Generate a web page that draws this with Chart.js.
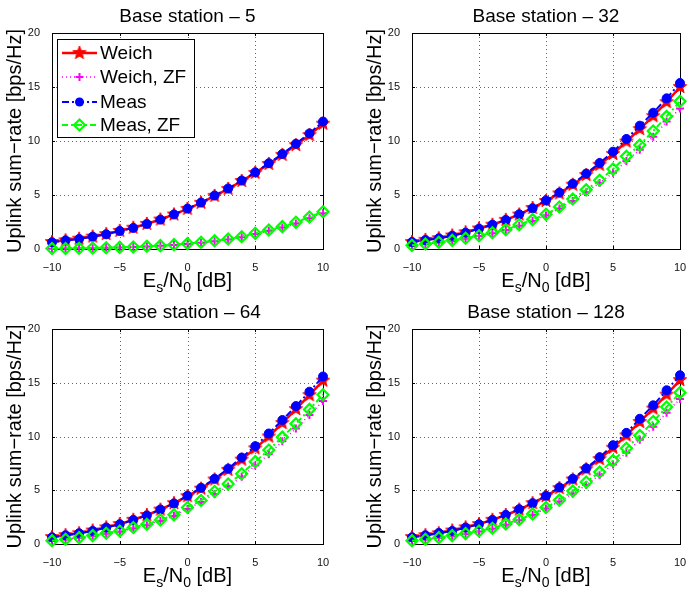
<!DOCTYPE html>
<html>
<head>
<meta charset="utf-8">
<script src="https://cdn.jsdelivr.net/npm/chart.js@4/dist/chart.umd.min.js"></script>
<style>
  body { margin: 0; background: #fff; width: 688px; height: 591px; position: relative; overflow: hidden; }
  canvas { position: absolute; }
</style>
</head>
<body>
<canvas id="c0" width="344" height="296" style="left:0;top:0"></canvas>
<canvas id="c1" width="344" height="296" style="left:344px;top:0"></canvas>
<canvas id="c2" width="344" height="295" style="left:0;top:296px"></canvas>
<canvas id="c3" width="344" height="295" style="left:344px;top:296px"></canvas>
<script>
// x axis: Es/N0 in dB
const snr = [-10, -9, -8, -7, -6, -5, -4, -3, -2, -1, 0, 1, 2, 3, 4, 5, 6, 7, 8, 9, 10];
const xTicks = [-10, -5, 0, 5, 10];
const yTicks = [0, 5, 10, 15, 20];
const seriesNames = ['Weich', 'Weich, ZF', 'Meas', 'Meas, ZF'];
const titles = ['Base station \u2013 5', 'Base station \u2013 32', 'Base station \u2013 64', 'Base station \u2013 128'];

// Base station 5
const weich5   = [0.65, 0.80, 0.95, 1.15, 1.38, 1.68, 1.97, 2.33, 2.73, 3.20, 3.72, 4.28, 4.92, 5.57, 6.30, 7.05, 7.88, 8.72, 9.62, 10.55, 11.60];
const weichZF5 = [0.03, 0.04, 0.06, 0.08, 0.11, 0.14, 0.18, 0.23, 0.29, 0.37, 0.47, 0.58, 0.72, 0.88, 1.08, 1.38, 1.68, 1.98, 2.37, 2.85, 3.32];
const meas5    = [0.62, 0.80, 0.93, 1.14, 1.36, 1.67, 1.95, 2.32, 2.72, 3.20, 3.74, 4.30, 4.95, 5.60, 6.34, 7.10, 7.94, 8.80, 9.74, 10.70, 11.80];
const measZF5  = [0.04, 0.05, 0.07, 0.09, 0.12, 0.15, 0.19, 0.25, 0.31, 0.40, 0.50, 0.62, 0.76, 0.92, 1.14, 1.45, 1.76, 2.07, 2.47, 2.96, 3.45];

// Base station 32
const weich32   = [0.65, 0.85, 1.00, 1.25, 1.55, 1.90, 2.25, 2.70, 3.20, 3.80, 4.45, 5.15, 5.95, 6.85, 7.80, 8.80, 9.95, 11.10, 12.30, 13.60, 15.00];
const weichZF32 = [0.33, 0.45, 0.60, 0.75, 0.95, 1.20, 1.45, 1.75, 2.15, 2.60, 3.10, 3.75, 4.45, 5.25, 6.10, 7.05, 8.15, 9.20, 10.40, 11.80, 13.00];
const meas32    = [0.65, 0.83, 0.99, 1.23, 1.51, 1.88, 2.25, 2.69, 3.21, 3.77, 4.50, 5.22, 6.05, 6.98, 7.96, 9.01, 10.19, 11.42, 12.62, 13.95, 15.37];
const measZF32  = [0.34, 0.46, 0.62, 0.80, 0.99, 1.23, 1.51, 1.79, 2.25, 2.72, 3.21, 3.89, 4.63, 5.49, 6.36, 7.40, 8.58, 9.63, 10.93, 12.28, 13.67];

// Base station 64
const weich64   = [0.65, 0.82, 1.00, 1.25, 1.55, 1.85, 2.25, 2.70, 3.20, 3.80, 4.45, 5.15, 6.00, 6.90, 7.85, 8.90, 10.00, 11.25, 12.55, 13.85, 15.20];
const weichZF64 = [0.30, 0.42, 0.57, 0.75, 0.95, 1.15, 1.45, 1.75, 2.15, 2.60, 3.25, 3.90, 4.65, 5.35, 6.25, 7.30, 8.35, 9.55, 10.75, 12.00, 13.30];
const meas64    = [0.62, 0.81, 1.00, 1.21, 1.53, 1.84, 2.24, 2.65, 3.21, 3.77, 4.49, 5.23, 6.07, 7.01, 8.04, 9.10, 10.28, 11.53, 12.83, 14.17, 15.58];
const measZF64  = [0.31, 0.44, 0.59, 0.78, 1.00, 1.21, 1.53, 1.84, 2.24, 2.71, 3.40, 4.05, 4.89, 5.58, 6.54, 7.66, 8.75, 9.94, 11.18, 12.52, 13.89];

// Base station 128
const weich128   = [0.65, 0.82, 1.00, 1.25, 1.55, 1.85, 2.25, 2.70, 3.20, 3.80, 4.45, 5.20, 6.00, 6.95, 7.90, 8.95, 10.10, 11.35, 12.60, 13.90, 15.25];
const weichZF128 = [0.30, 0.42, 0.57, 0.75, 0.94, 1.17, 1.42, 1.80, 2.20, 2.70, 3.30, 3.95, 4.70, 5.50, 6.40, 7.40, 8.50, 9.70, 10.90, 12.20, 13.50];
const meas128    = [0.62, 0.81, 1.03, 1.21, 1.53, 1.84, 2.24, 2.71, 3.24, 3.80, 4.49, 5.26, 6.07, 7.04, 8.07, 9.19, 10.34, 11.65, 12.90, 14.30, 15.70];
const measZF128  = [0.31, 0.44, 0.59, 0.78, 0.97, 1.21, 1.46, 1.87, 2.27, 2.80, 3.40, 4.08, 4.92, 5.76, 6.70, 7.76, 8.91, 10.09, 11.40, 12.74, 14.08];

const panels = [
  [weich5, weichZF5, meas5, measZF5],
  [weich32, weichZF32, meas32, measZF32],
  [weich64, weichZF64, meas64, measZF64],
  [weich128, weichZF128, meas128, measZF128]
];

// plot area of each panel inside its canvas: left, right, top, bottom
const areas = [
  { l: 52, r: 323, t: 33, b: 249 },
  { l: 68, r: 339, t: 33, b: 249 },
  { l: 52, r: 323, t: 33, b: 248 },
  { l: 68, r: 339, t: 33, b: 248 }
];

const FONT = '"Liberation Sans", Arial, Helvetica, sans-serif';
const RED = '#ff0000', MAGENTA = '#ff00ff', BLUE = '#0000ff', GREEN = '#00ff00';

function makeStar(r, color) {
  const c = document.createElement('canvas');
  const s = Math.ceil(r * 2 + 2);
  c.width = c.height = s;
  const g = c.getContext('2d');
  g.translate(s / 2, s / 2);
  g.beginPath();
  for (let i = 0; i < 10; i++) {
    const rr = i % 2 ? r * 0.42 : r;
    const a = -Math.PI / 2 + i * Math.PI / 5;
    g.lineTo(rr * Math.cos(a), rr * Math.sin(a));
  }
  g.closePath();
  g.fillStyle = color;
  g.fill();
  g.strokeStyle = color;
  g.lineWidth = 1;
  g.stroke();
  return c;
}
const star = makeStar(7, RED);

const styles = [
  { color: RED, width: 2.5, dash: [], point: star, radius: 7, fill: RED, pw: 1, order: 4 },
  { color: MAGENTA, width: 1.5, dash: [1, 3], point: 'cross', radius: 4, fill: MAGENTA, pw: 2, order: 3 },
  { color: BLUE, width: 2, dash: [7, 3, 2, 3], point: 'circle', radius: 4.5, fill: BLUE, pw: 1, order: 2 },
  { color: GREEN, width: 2, dash: [6, 3, 2, 3], point: 'rectRot', radius: 5.5, fill: 'rgba(0,0,0,0)', pw: 2.2, order: 1 }
];

function fmt(v) { return String(v).replace('-', '\u2212'); }

function drawMarker(ctx, st, x, y) {
  ctx.save();
  ctx.setLineDash([]);
  if (st.point === star) {
    ctx.drawImage(star, x - star.width / 2, y - star.height / 2);
  } else if (st.point === 'cross') {
    ctx.strokeStyle = st.color; ctx.lineWidth = st.pw;
    ctx.beginPath();
    ctx.moveTo(x - st.radius, y); ctx.lineTo(x + st.radius, y);
    ctx.moveTo(x, y - st.radius); ctx.lineTo(x, y + st.radius);
    ctx.stroke();
  } else if (st.point === 'circle') {
    ctx.fillStyle = st.color;
    ctx.beginPath(); ctx.arc(x, y, st.radius, 0, Math.PI * 2); ctx.fill();
  } else {
    ctx.strokeStyle = st.color; ctx.lineWidth = st.pw;
    ctx.beginPath();
    ctx.moveTo(x, y - st.radius); ctx.lineTo(x + st.radius, y);
    ctx.lineTo(x, y + st.radius); ctx.lineTo(x - st.radius, y);
    ctx.closePath(); ctx.stroke();
  }
  ctx.restore();
}

function framePlugin(idx) {
  return {
    id: 'frame' + idx,
    beforeDatasetsDraw(chart) {
      const ctx = chart.ctx, a = chart.chartArea;
      const xs = chart.scales.x, ys = chart.scales.y;
      ctx.save();
      // dotted grid
      ctx.strokeStyle = 'rgba(0,0,0,0.6)';
      ctx.lineWidth = 1;
      ctx.setLineDash([1, 3]);
      ctx.beginPath();
      xTicks.slice(1, -1).forEach(v => {
        const px = Math.round(xs.getPixelForValue(v)) + 0.5;
        ctx.moveTo(px, a.top); ctx.lineTo(px, a.bottom);
      });
      yTicks.slice(1, -1).forEach(v => {
        const py = Math.round(ys.getPixelForValue(v)) + 0.5;
        ctx.moveTo(a.left, py); ctx.lineTo(a.right, py);
      });
      ctx.stroke();
      // box and inward ticks
      ctx.setLineDash([]);
      ctx.strokeStyle = '#000';
      ctx.strokeRect(a.left + 0.5, a.top + 0.5, a.right - a.left, a.bottom - a.top);
      ctx.beginPath();
      xTicks.forEach(v => {
        const px = Math.round(xs.getPixelForValue(v)) + 0.5;
        ctx.moveTo(px, a.bottom); ctx.lineTo(px, a.bottom - 3);
        ctx.moveTo(px, a.top); ctx.lineTo(px, a.top + 3);
      });
      yTicks.forEach(v => {
        const py = Math.round(ys.getPixelForValue(v)) + 0.5;
        ctx.moveTo(a.left, py); ctx.lineTo(a.left + 3, py);
        ctx.moveTo(a.right, py); ctx.lineTo(a.right - 3, py);
      });
      ctx.stroke();
      ctx.restore();
    },
    afterDraw(chart) {
      const ctx = chart.ctx, a = chart.chartArea;
      const cx = (a.left + a.right) / 2;
      ctx.save();
      ctx.fillStyle = '#000';
      // title
      ctx.font = '19px ' + FONT;
      ctx.textAlign = 'center';
      ctx.textBaseline = 'alphabetic';
      ctx.fillText(titles[idx], cx, 22);
      // y axis title
      ctx.save();
      ctx.translate(a.left - 31, (a.top + a.bottom) / 2);
      ctx.rotate(-Math.PI / 2);
      ctx.font = '20px ' + FONT;
      ctx.fillText('Uplink sum\u2212rate [bps/Hz]', 0, 0);
      ctx.restore();
      // x axis title with subscripts
      const big = '20px ' + FONT, small = '14px ' + FONT;
      const parts = [['E', big, 0], ['s', small, 5], ['/N', big, 0], ['0', small, 5], [' [dB]', big, 0]];
      let w = 0;
      parts.forEach(p => { ctx.font = p[1]; w += ctx.measureText(p[0]).width; });
      let x = cx - w / 2;
      const base = a.bottom + 38;
      ctx.textAlign = 'left';
      parts.forEach(p => {
        ctx.font = p[1];
        ctx.fillText(p[0], x, base + p[2]);
        x += ctx.measureText(p[0]).width;
      });
      // legend (first panel only)
      if (idx === 0) {
        const lx = 57, ly = 39, lw = 137, lh = 98;
        ctx.fillStyle = '#fff';
        ctx.fillRect(lx, ly, lw, lh);
        ctx.strokeStyle = '#000';
        ctx.lineWidth = 1;
        ctx.strokeRect(lx + 0.5, ly + 0.5, lw, lh);
        const rows = [53, 77, 102, 125];
        styles.forEach((st, i) => {
          const y = rows[i];
          ctx.save();
          ctx.strokeStyle = st.color;
          ctx.lineWidth = st.width;
          ctx.setLineDash(st.dash);
          ctx.beginPath(); ctx.moveTo(62, y); ctx.lineTo(97, y); ctx.stroke();
          ctx.restore();
          drawMarker(ctx, st, 79.5, y);
          ctx.fillStyle = '#000';
          ctx.font = '19px ' + FONT;
          ctx.textAlign = 'left';
          ctx.textBaseline = 'middle';
          ctx.fillText(seriesNames[i], 100, y + 1);
        });
      }
      ctx.restore();
    }
  };
}

panels.forEach((series, idx) => {
  const canvas = document.getElementById('c' + idx);
  const ar = areas[idx];
  const datasets = series.map((vals, i) => {
    const st = styles[i];
    return {
      label: seriesNames[i],
      data: snr.map((x, k) => ({ x: x, y: vals[k] })),
      borderColor: st.color,
      borderWidth: st.width,
      borderDash: st.dash,
      backgroundColor: st.fill,
      pointStyle: st.point,
      pointRadius: st.radius,
      pointBorderWidth: st.pw,
      pointBorderColor: st.color,
      pointBackgroundColor: st.fill,
      tension: 0,
      clip: false,
      order: st.order
    };
  });
  new Chart(canvas, {
    type: 'line',
    data: { datasets: datasets },
    plugins: [framePlugin(idx)],
    options: {
      responsive: false,
      animation: false,
      devicePixelRatio: 1,
      layout: { padding: { top: ar.t, right: canvas.width - ar.r, left: 0, bottom: 0 } },
      plugins: { legend: { display: false }, tooltip: { enabled: false } },
      scales: {
        x: {
          type: 'linear', min: -10, max: 10,
          afterBuildTicks: s => { s.ticks = xTicks.map(v => ({ value: v })); },
          grid: { display: false },
          border: { display: false },
          ticks: { padding: 4, color: '#111', font: { family: FONT, size: 11 }, maxRotation: 0, autoSkip: false, callback: fmt },
          afterFit: s => { s.height = canvas.height - ar.b; s.paddingLeft = 0; s.paddingRight = 0; }
        },
        y: {
          type: 'linear', min: 0, max: 20,
          afterBuildTicks: s => { s.ticks = yTicks.map(v => ({ value: v })); },
          grid: { display: false },
          border: { display: false },
          ticks: { padding: 4, color: '#111', font: { family: FONT, size: 11 }, autoSkip: false, callback: fmt },
          afterFit: s => { s.width = ar.l; s.paddingTop = 0; s.paddingBottom = 0; }
        }
      }
    }
  });
});
</script>
</body>
</html>
